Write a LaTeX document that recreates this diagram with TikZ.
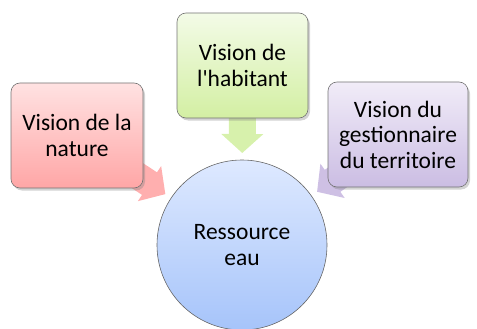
\documentclass[tikz,border=0pt]{standalone}
\usepackage{fontspec}
\setmainfont{Carlito}
\usetikzlibrary{calc,shadows,backgrounds,arrows.meta}

\definecolor{natTop}{HTML}{FFE2E2}
\definecolor{natBot}{HTML}{FFA6A6}
\definecolor{habTop}{HTML}{F3FBE7}
\definecolor{habBot}{HTML}{D3EFA3}
\definecolor{gesTop}{HTML}{F1ECF8}
\definecolor{gesBot}{HTML}{CBBDE3}
\definecolor{eauTop}{HTML}{DEE9FF}
\definecolor{eauBot}{HTML}{A6C4FA}

\tikzset{
  vbox/.style={draw=black!55, line width=0.6pt, rounded corners=9pt,
    align=center, minimum height=105pt, inner sep=2pt,
    font=\fontsize{23.5}{25.5}\selectfont,
    drop shadow={opacity=0.35, shadow xshift=2pt, shadow yshift=-2.5pt}},
  barrow/.style={line width=27pt, -{Triangle[width=41pt,length=19pt]}},
}

\begin{document}
\begin{tikzpicture}[x=1pt, y=-1pt]
      \def\rr{85pt}
      \def\gap{92pt}
      \useasboundingbox (0,0) rectangle (477,329);
      %
      \node[circle, draw=black!60, line width=0.6pt, minimum size=2*\rr,
        align=center, font=\fontsize{23.5}{25.5}\selectfont,
        top color=eauTop, bottom color=eauBot] (eau) at (242,245) {Ressource\\eau};   % centre
      %
      \node[vbox, minimum width=132pt, top color=natTop, bottom color=natBot]
        (nature) at (77,135.5) {Vision de la\\nature};
      \node[vbox, minimum width=131pt, top color=habTop, bottom color=habBot]
        (habitant) at (242.5,65.5) {Vision de\\l\textquotesingle habitant};
      \node[vbox, minimum width=140pt, top color=gesTop, bottom color=gesBot]
        (gestion) at (398,134.5) {Vision du\\gestionnaire\\du territoire};
      %
      \coordinate (tipNat) at ($(eau.center)!\gap!(nature.center)$);
      \coordinate (tipHab) at ($(eau.center)!\gap!(habitant.center)$);
      \coordinate (tipGes) at ($(eau.center)!\gap!(gestion.center)$);
      %
      \begin{scope}[on background layer]
        \draw[barrow, natBot!90] (nature.center) -- (tipNat);
        \draw[barrow, habBot!90] (habitant.center) -- (tipHab);
        \draw[barrow, gesBot!95] (gestion.center) -- (tipGes);
      \end{scope}
      %
    \end{tikzpicture}
\end{document}
